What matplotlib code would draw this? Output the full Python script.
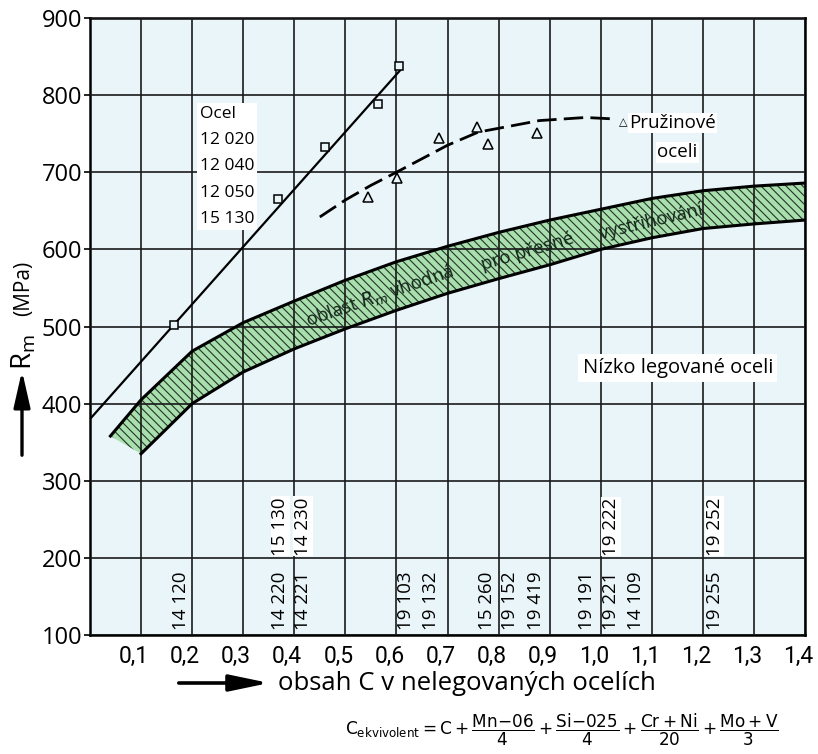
import matplotlib.pyplot as plt
import matplotlib.transforms as mtransforms
import numpy as np

W, H = 818, 754

# osy
x_ticks = [0.1, 0.2, 0.3, 0.4, 0.5, 0.6, 0.7, 0.8, 0.9, 1.0, 1.1, 1.2, 1.3, 1.4]
x_labels = ['0,1', '0,2', '0,3', '0,4', '0,5', '0,6', '0,7', '0,8', '0,9',
            '1,0', '1,1', '1,2', '1,3', '1,4']
y_ticks = [100, 200, 300, 400, 500, 600, 700, 800, 900]

# nelegovane oceli (ctverecky) a primka
ocel_x = [0.165, 0.369, 0.460, 0.563, 0.606]
ocel_y = [502, 665, 733, 789, 838]
ocel_line_x = [0.0, 0.607]
ocel_line_y = [380, 832]

# pruzinove oceli (trojuhelniky) a carkovana krivka
pruz_x = [0.544, 0.602, 0.684, 0.758, 0.780, 0.875]
pruz_y = [668, 693, 744, 759, 737, 751]
pruz_curve_x = [0.45, 0.50, 0.55, 0.60, 0.70, 0.76, 0.88, 0.97, 1.03]
pruz_curve_y = [642, 664, 683, 700, 735, 752, 767, 771, 769]

# pasmo Rm vhodne pro presne vystrihovani
band_up_x = [0.04, 0.1, 0.2, 0.3, 0.4, 0.5, 0.6, 0.7, 0.8, 0.9, 1.0, 1.1, 1.2, 1.3, 1.4]
band_up_y = [358, 405, 468, 505, 533, 560, 584, 604, 622, 638, 652, 666, 676, 682, 686]
band_lo_x = [0.1, 0.2, 0.3, 0.4, 0.5, 0.6, 0.7, 0.8, 0.9, 1.0, 1.1, 1.2, 1.3, 1.4]
band_lo_y = [335, 400, 441, 471, 497, 521, 543, 562, 580, 600, 615, 627, 633, 638]

# znacky oceli dole v grafu
steel_low = ['14 120', '14 220', '14 221', '19 103', '19 132', '15 260', '19 152',
             '19 419', '19 191', '19 221', '14 109', '19 255']
steel_low_x = [0.178, 0.373, 0.417, 0.618, 0.668, 0.777, 0.822, 0.873, 0.973, 1.020, 1.070, 1.223]
steel_high = ['15 130', '14 230', '19 222', '19 252']
steel_high_x = [0.373, 0.417, 1.020, 1.223]

ocel_names = ['Ocel', '12 020', '12 040', '12 050', '15 130']

plt.rcParams['font.family'] = ['Open Sans', 'DejaVu Sans']
plt.rcParams['mathtext.fontset'] = 'dejavusans'
plt.rcParams['hatch.linewidth'] = 0.8

bg = '#e9f5f8'
fig = plt.figure(figsize=(W / 100, H / 100), dpi=100)
ax = fig.add_axes([90 / W, 1 - 635 / H, 715 / W, 617 / H])
ax.set_facecolor(bg)
ax.set_xlim(0, 1.4)
ax.set_ylim(100, 900)

ax.set_xticks(x_ticks)
ax.set_xticklabels([])
# popisky osy x trochu vlevo od car mrizky (jako v predloze)
shift = mtransforms.ScaledTranslation(-7 / 100, -10 / 100, fig.dpi_scale_trans)
for xv, lab in zip(x_ticks, x_labels):
    ax.text(xv, 0, lab, transform=ax.get_xaxis_transform() + shift, fontsize=16.5,
            family=['Roboto', 'DejaVu Sans'], ha='center', va='top', clip_on=False)
ax.set_yticks(y_ticks)
ax.set_yticklabels([str(v) for v in y_ticks], fontsize=17)
ax.tick_params(axis='x', length=0)
ax.tick_params(axis='y', length=4, width=1.2, pad=1.5)
for s in ax.spines.values():
    s.set_linewidth(1.8)
ax.grid(True, color='#1a1a1a', lw=1.2)
ax.set_axisbelow(False)

# pasmo
poly_x = np.concatenate([band_up_x, band_lo_x[::-1]])
poly_y = np.concatenate([band_up_y, band_lo_y[::-1]])
ax.fill(poly_x, poly_y, facecolor='#a9dead', edgecolor='#24352a', hatch='\\\\\\\\', lw=0, zorder=1)
ax.plot(band_up_x, band_up_y, color='black', lw=2.2, zorder=2.6)
ax.plot(band_lo_x, band_lo_y, color='black', lw=2.2, zorder=2.6)

# primka + ctverecky
ax.plot(ocel_line_x, ocel_line_y, color='black', lw=1.6, zorder=3.5)
ax.plot(ocel_x, ocel_y, ls='none', marker='s', ms=5.5, mfc=bg, mec='black', mew=1.1, zorder=4)

# carkovana krivka + trojuhelniky
ax.plot(pruz_curve_x, pruz_curve_y, color='black', lw=2.0, dashes=(7, 2.6), zorder=3.5)
ax.plot(pruz_x, pruz_y, ls='none', marker='^', ms=7, mfc=bg, mec='black', mew=1.1, zorder=4)

# texty v grafu
ax.text(0.215, 786, '\n'.join(ocel_names), fontsize=12.5, ha='left', va='top', linespacing=1.85,
        bbox=dict(fc='white', ec='none', pad=2), zorder=3)
ax.text(1.045, 765, '△', fontsize=8, family='DejaVu Sans', ha='center', va='center', zorder=3)
ax.text(1.056, 764, 'Pružinové', fontsize=13.5, ha='left', va='center',
        bbox=dict(fc='white', ec='none', pad=1), zorder=3)
ax.text(1.111, 726, 'oceli', fontsize=13.5, ha='left', va='center',
        bbox=dict(fc='white', ec='none', pad=1), zorder=3)
ax.text(1.151, 446, 'Nízko legované oceli', fontsize=14.5, ha='center', va='center',
        bbox=dict(fc='white', ec='none', pad=3), zorder=3)

band_col = '#14261a'
ax.text(0.568, 539, r'oblast $R_m$ vhodná', fontsize=13.5, rotation=19, color=band_col,
        ha='center', va='center', rotation_mode='anchor', zorder=3)
ax.text(0.856, 597, 'pro přesné', fontsize=13.5, rotation=16.5, color=band_col,
        ha='center', va='center', rotation_mode='anchor', zorder=3)
ax.text(1.098, 636, 'vystřihování', fontsize=13.5, rotation=13.5, color=band_col,
        ha='center', va='center', rotation_mode='anchor', zorder=3)

for name, xv in zip(steel_low, steel_low_x):
    ax.text(xv, 106, name, rotation=90, fontsize=13.5, ha='center', va='bottom', zorder=3)
for name, xv in zip(steel_high, steel_high_x):
    ax.text(xv, 203, name, rotation=90, fontsize=13.5, ha='center', va='bottom', zorder=3,
            bbox=dict(fc='white', ec='none', pad=0.5))

# popisy os
fig.text(24 / W, 1 - 352 / H, r'$\mathregular{R_m}$', rotation=90, fontsize=20, ha='center', va='center')
fig.text(24 / W, 1 - 288 / H, '(MPa)', rotation=90, fontsize=15, ha='center', va='center')
ax.annotate('', xy=(22, H - 368), xytext=(22, H - 458), xycoords='figure pixels',
            arrowprops=dict(arrowstyle='-|>,head_length=1.1,head_width=0.25', lw=2.4,
                            color='black', mutation_scale=20))
ax.annotate('', xy=(272, H - 683), xytext=(176, H - 683), xycoords='figure pixels',
            arrowprops=dict(arrowstyle='-|>,head_length=1.2,head_width=0.25', lw=2.6,
                            color='black', mutation_scale=20))
fig.text(278 / W, 1 - 684 / H, 'obsah C v nelegovaných ocelích', fontsize=18.5, ha='left', va='center')

formula = (r'$\mathregular{C_{ekvivolent}=C+\dfrac{Mn{-}06}{4}+\dfrac{Si{-}025}{4}'
           r'+\dfrac{Cr+Ni}{20}+\dfrac{Mo+V}{3}}$')
fig.text(345 / W, 1 - 730 / H, formula, fontsize=12.2, ha='left', va='center', family='DejaVu Sans')

fig.savefig('out.png', dpi=100)
